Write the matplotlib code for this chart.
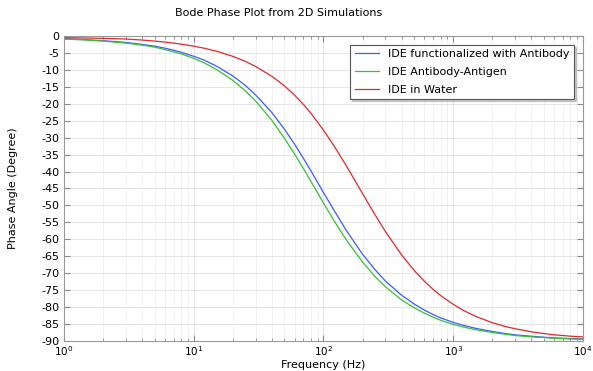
import matplotlib
matplotlib.use("Agg")
import matplotlib.pyplot as plt
import numpy as np

# values
freq = [1, 1.5, 2, 3, 4, 5, 6, 7, 8, 10, 12, 15, 20, 25, 30, 40, 50, 60, 70, 80,
        100, 120, 150, 200, 250, 300, 400, 500, 600, 700, 800, 1000, 1200, 1500,
        2000, 2500, 3000, 4000, 5000, 6000, 7000, 8000, 10000]
phase_antibody = [-0.8, -1.1, -1.4, -1.9, -2.5, -3.0, -3.6, -4.2, -4.8, -6.0,
                  -7.1, -8.9, -11.8, -14.6, -17.4, -22.6, -27.5, -32.0, -36.1,
                  -39.8, -46.2, -51.3, -57.4, -64.4, -69.0, -72.3, -76.5, -79.1,
                  -80.9, -82.2, -83.2, -84.5, -85.4, -86.3, -87.2, -87.8, -88.2,
                  -88.6, -88.9, -89.1, -89.2, -89.3, -89.4]
phase_antigen = [-0.9, -1.2, -1.5, -2.1, -2.7, -3.3, -4.0, -4.7, -5.3, -6.6,
                 -7.9, -9.9, -13.1, -16.2, -19.2, -24.9, -30.2, -34.9, -39.1,
                 -42.9, -49.3, -54.4, -60.2, -66.7, -71.0, -74.0, -77.9, -80.2,
                 -81.8, -83.0, -83.9, -85.1, -85.9, -86.7, -87.5, -88.0, -88.4,
                 -88.8, -89.0, -89.2, -89.3, -89.4, -89.5]
phase_water = [-0.5, -0.6, -0.7, -0.9, -1.2, -1.5, -1.8, -2.1, -2.4, -3.0,
               -3.6, -4.5, -6.0, -7.5, -9.0, -11.9, -14.7, -17.5, -20.2, -22.8,
               -27.8, -32.3, -38.3, -46.5, -52.8, -57.7, -64.6, -69.2, -72.4,
               -74.8, -76.6, -79.2, -81.0, -82.8, -84.6, -85.7, -86.4, -87.3,
               -87.8, -88.2, -88.4, -88.6, -88.8]
labels = ["IDE functionalized with Antibody", "IDE Antibody-Antigen", "IDE in Water"]
colors = ["#3b5bff", "#35c035", "#e0282c"]

fig = plt.figure(figsize=(5.93, 3.71), dpi=100)
ax = fig.add_axes([0.108, 0.081, 0.875, 0.822])

for y, lab, c in zip([phase_antibody, phase_antigen, phase_water], labels, colors):
    ax.plot(freq, y, color=c, lw=0.9, label=lab)

ax.set_xscale("log")
ax.set_xlim(1, 1e4)
ax.set_ylim(-90, 0)
ax.set_yticks(np.arange(-90, 1, 5))
ax.set_yticklabels([str(v) for v in range(-90, 1, 5)])
ax.grid(True, which="major", color="#e0e0e0", lw=0.6)
ax.grid(True, which="minor", axis="x", color="#ececec", lw=0.5)
ax.tick_params(which="both", direction="in", top=True, right=True,
               labelsize=8, colors="#888888", labelcolor="black", length=4, pad=3.5)
ax.tick_params(axis="x", which="both", pad=2.5, labelsize=7.5)
ax.tick_params(which="minor", length=2.5)
for s in ax.spines.values():
    s.set_color("#999999")

ax.set_xlabel("Frequency (Hz)", fontsize=8)
ax.xaxis.set_label_coords(0.5, -0.063)
ax.set_ylabel("Phase Angle (Degree)", fontsize=8)
ax.yaxis.set_label_coords(-0.088, 0.5)
fig.text(0.47, 0.965, "Bode Phase Plot from 2D Simulations", fontsize=8,
         ha="center", va="center")

leg = ax.legend(loc="upper right", fontsize=8, fancybox=False,
                shadow={"ox": 1.5, "oy": -1.5, "color": "#999999", "alpha": 0.5},
                framealpha=1, edgecolor="#555555", borderaxespad=0.8,
                handlelength=2.2, labelspacing=0.7)
leg.get_frame().set_linewidth(0.8)

fig.savefig("out.png", dpi=100)
